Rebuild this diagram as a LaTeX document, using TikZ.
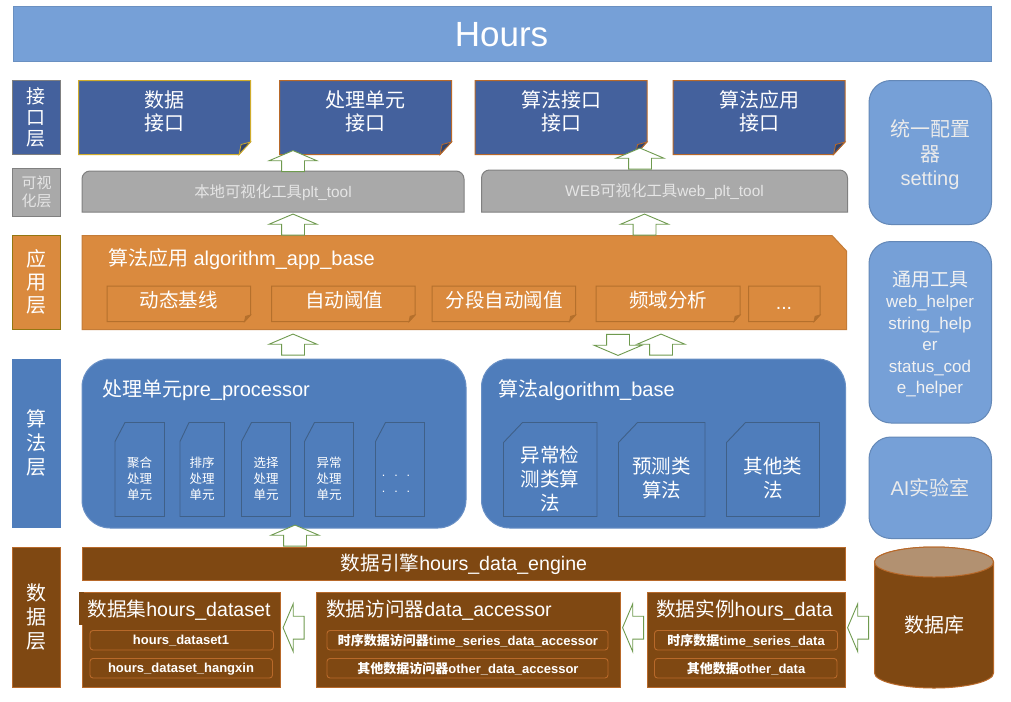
\documentclass[tikz,border=0pt]{standalone}
\usepackage{fontspec}
\setmainfont{Liberation Sans}
\newfontfamily\cjk{Noto Sans CJK SC}
\usetikzlibrary{shapes.arrows,fit}
\newcommand{\C}[1]{{\cjk #1}}
\definecolor{ifblue}{HTML}{44619D}
\definecolor{algblue}{HTML}{4F7DBB}
\definecolor{sideblue}{HTML}{76A0D7}
\definecolor{orangeF}{HTML}{DA8A3E}
\definecolor{orangeL}{HTML}{B5702C}
\definecolor{brownF}{HTML}{7F4812}
\definecolor{brownL}{HTML}{B8692A}
\definecolor{greyF}{HTML}{A9A9A9}
\definecolor{greyL}{HTML}{808080}
\definecolor{arrowG}{HTML}{6F9A4F}
\definecolor{cellL}{HTML}{3F6088}
\tikzset{
  x=1pt,y=-1pt,
  txt/.style={inner sep=0pt,outer sep=0pt,text=white,align=center},
  fitbox/.style={inner sep=0pt,outer sep=0pt,line width=1pt},
  blockarrow/.style={draw=arrowG,fill=white,line width=0.9pt,single arrow,inner xsep=0pt,inner ysep=11pt,outer sep=0pt,
    minimum height=21pt,single arrow head extend=12.5pt,single arrow tip angle=134,anchor=center},
  uparrow/.style={blockarrow,rotate=90},
  downarrow/.style={blockarrow,rotate=270},
  leftarrow/.style={blockarrow,rotate=180},
  subbox/.style={fitbox,draw=brownL,rounded corners=3pt,line width=0.9pt},
  subtxt/.style={txt,font=\fontsize{13}{15}\selectfont\bfseries},
  sidepanel/.style={fitbox,draw=sideblue!85!black,fill=sideblue,rounded corners=22pt},
}
% x1 y1 x2 y2 fold fill line foldfill
\newcommand{\notebox}[8]{%
  \draw[fill=#6,draw=#7,line width=1pt,line join=miter]
    (#1,#2) -- (#3,#2) -- (#3,{#4-#5}) -- ({#3-#5*0.92},#4) -- (#1,#4) -- cycle;
  \draw[fill=#8,draw=#7,line width=0.8pt]
    ({#3-#5*0.92},#4) -- (#3,{#4-#5}) -- ({#3-#5*0.75},{#4-#5*0.8}) -- cycle;
}
% x1 y1 x2 y2 dx dy
\newcommand{\cellbox}[6]{%
  \draw[fill=algblue,draw=cellL,line width=0.9pt]
    (#1,{#2+#6}) -- ({#1+#5},#2) -- (#3,#2) -- (#3,#4) -- (#1,#4) -- cycle;
}
\begin{document}
\begin{tikzpicture}
\useasboundingbox (0,0) rectangle (1011,701);
\fill[white] (0,0) rectangle (1011,701);

% title
\node[fitbox,draw=sideblue!90!black,fill=sideblue,fit={(13,7)(991,62)}] (titlebox) {};
\node[txt,font=\fontsize{35}{40}\selectfont] (title) at (501.5,35) {Hours};

% layer column
\node[fitbox,draw=greyL,fill=ifblue,fit={(12.5,80.5)(60.5,154.5)}] (l1) {};
\node[txt,font=\fontsize{19}{21.2}\selectfont] (l1t) at (l1.center) {\C{接}\\\C{口}\\\C{层}};
\node[fitbox,draw=greyL,fill=greyF,fit={(12.5,168.5)(60.5,216.5)}] (l2) {};
\node[txt,font=\fontsize{15}{18}\selectfont,text=white!90!black] (l2t) at (36.5,192) {\C{可视}\\\C{化层}};
\node[fitbox,draw=orangeL!60!yellow!70!black,fill=orangeF,fit={(12.5,235.5)(60.5,329.5)}] (l3) {};
\node[txt,font=\fontsize{20}{23}\selectfont] (l3t) at (36.5,282) {\C{应}\\\C{用}\\\C{层}};
\node[fitbox,draw=algblue,fill=algblue,fit={(12.5,359.5)(60.5,527.5)}] (l4) {};
\node[txt,font=\fontsize{20}{24}\selectfont] (l4t) at (36.5,443) {\C{算}\\\C{法}\\\C{层}};
\node[fitbox,draw=brownL,fill=brownF,fit={(12.5,547.5)(60.5,687.5)}] (l5) {};
\node[txt,font=\fontsize{20}{24}\selectfont] (l5t) at (36.5,617) {\C{数}\\\C{据}\\\C{层}};

% interface notes
\notebox{78.5}{80.5}{250.5}{154.5}{12.5}{ifblue}{yellow!60!orange!80!black}{ifblue!70!black}
\notebox{279.5}{80.5}{451.5}{154.5}{12.5}{ifblue}{brownL}{ifblue!70!black}
\notebox{475}{80.5}{647}{154.5}{12.5}{ifblue}{brownL}{ifblue!70!black}
\notebox{673}{80.5}{845}{154.5}{12.5}{ifblue}{brownL}{ifblue!70!black}
\node[txt,font=\fontsize{20}{23.5}\selectfont] (n1) at (164.5,111.5) {\C{数据}\\\C{接口}};
\node[txt,font=\fontsize{20}{23.5}\selectfont] (n2) at (365,111.5) {\C{处理单元}\\\C{接口}};
\node[txt,font=\fontsize{20}{23.5}\selectfont] (n3) at (561,111.5) {\C{算法接口}\\\C{接口}};
\node[txt,font=\fontsize{20}{23.5}\selectfont] (n4) at (759,111.5) {\C{算法应用}\\\C{接口}};

% grey tools
\draw[fill=greyF,draw=greyL,line width=1pt]
  (82,212) [rounded corners=8pt] -- (82,171) -- (464,171) [sharp corners] -- (464,212) -- cycle;
\draw[fill=greyF,draw=greyL,line width=1pt]
  (481.5,212) [rounded corners=8pt] -- (481.5,170) -- (847.5,170) [sharp corners] -- (847.5,212) -- cycle;
\node[txt,font=\fontsize{15.4}{17}\selectfont,text=white!90!black] (t1) at (273,193) {\C{本地可视化工具}plt\_tool};
\node[txt,font=\fontsize{15.4}{17}\selectfont,text=white!90!black] (t2) at (664.5,192) {WEB\C{可视化工具}web\_plt\_tool};

% application layer
\draw[fill=orangeF,draw=orangeF!90!black,line width=1pt]
  (82,235.5) -- (832,235.5) -- (846.5,251) -- (846.5,329.5) -- (82,329.5) -- cycle;
\node[txt,font=\fontsize{20}{22}\selectfont,anchor=west] (apptitle) at (108,259) {\C{算法应用} algorithm\_app\_base};
\notebox{107}{286}{250.5}{321.5}{6.5}{orangeF}{orangeL}{orangeL}
\notebox{271.5}{286}{415}{321.5}{6.5}{orangeF}{orangeL}{orangeL}
\notebox{432}{286}{575.5}{321.5}{6.5}{orangeF}{orangeL}{orangeL}
\notebox{596}{286}{740}{321.5}{6.5}{orangeF}{orangeL}{orangeL}
\notebox{748.5}{286}{820}{321.5}{6.5}{orangeF}{orangeL}{orangeL}
\node[txt,font=\fontsize{19.5}{22}\selectfont] (a1) at (178.5,300.5) {\C{动态基线}};
\node[txt,font=\fontsize{19.5}{22}\selectfont] (a2) at (344,300.5) {\C{自动阈值}};
\node[txt,font=\fontsize{19.5}{22}\selectfont] (a3) at (504,300.5) {\C{分段自动阈值}};
\node[txt,font=\fontsize{19.5}{22}\selectfont] (a4) at (668,300.5) {\C{频域分析}};
\node[txt,font=\fontsize{19.5}{22}\selectfont,anchor=base] (a5) at (784,309) {...};

% algorithm layer
\node[fitbox,draw=algblue!85!white,fill=algblue,rounded corners=28pt,fit={(82,359)(466,528)}] (pp) {};
\node[fitbox,draw=algblue!85!white,fill=algblue,rounded corners=28pt,fit={(481.5,359)(845.5,528)}] (ab) {};
\node[txt,font=\fontsize{20}{22}\selectfont,anchor=west] (pptitle) at (102,390) {\C{处理单元}pre\_processor};
\node[txt,font=\fontsize{20}{22}\selectfont,anchor=west] (abtitle) at (498,390) {\C{算法}algorithm\_base};
\cellbox{115}{422.5}{164.5}{516.5}{10}{19}
\cellbox{180}{422.5}{224.5}{516.5}{9}{19}
\cellbox{241.5}{422.5}{290.5}{516.5}{10}{19}
\cellbox{304.5}{422.5}{353.5}{516.5}{10}{19}
\cellbox{375.5}{422.5}{424.5}{516.5}{10}{19}
\node[txt,font=\fontsize{12.5}{16}\selectfont] (c1) at (139.5,478.5) {\C{聚合}\\\C{处理}\\\C{单元}};
\node[txt,font=\fontsize{12.5}{16}\selectfont] (c2) at (202,478.5) {\C{排序}\\\C{处理}\\\C{单元}};
\node[txt,font=\fontsize{12.5}{16}\selectfont] (c3) at (266,478.5) {\C{选择}\\\C{处理}\\\C{单元}};
\node[txt,font=\fontsize{12.5}{16}\selectfont] (c4) at (329,478.5) {\C{异常}\\\C{处理}\\\C{单元}};
\node[txt,font=\fontsize{12.5}{16}\selectfont] (c5) at (396,484) {.\hspace{9pt}.\hspace{9pt}.\\.\hspace{9pt}.\hspace{9pt}.};
\cellbox{503.5}{422.5}{597}{516.5}{19}{20}
\cellbox{618.5}{422.5}{705}{516.5}{19}{20}
\cellbox{726.5}{422.5}{819.5}{516.5}{19}{20}
\node[txt,font=\fontsize{19.5}{24}\selectfont] (d1) at (550,479) {\C{异常检}\\\C{测类算}\\\C{法}};
\node[txt,font=\fontsize{19.5}{24}\selectfont] (d2) at (661.5,478.5) {\C{预测类}\\\C{算法}};
\node[txt,font=\fontsize{19.5}{24}\selectfont] (d3) at (773,478.5) {\C{其他类}\\\C{法}};

% data layer
\node[fitbox,draw=brownL,fill=brownF,fit={(82,547.5)(845.5,580.5)}] (eng) {};
\node[txt,font=\fontsize{19.6}{23}\selectfont] (engt) at (464,564.5) {\C{数据引擎}hours\_data\_engine};
\node[fitbox,draw=brownL,fill=brownF,fit={(82,592.5)(280.5,687.5)}] (b1) {};
\fill[brownF] (79,592) rectangle (84,625);
\node[fitbox,draw=brownL,fill=brownF,fit={(316.5,592.5)(620,687.5)}] (b2) {};
\node[fitbox,draw=brownL,fill=brownF,fit={(647,592.5)(845.5,687.5)}] (b3) {};
\node[txt,font=\fontsize{19.6}{23}\selectfont] (b1t) at (179,610) {\C{数据集}hours\_dataset};
\node[txt,font=\fontsize{19.6}{23}\selectfont] (b2t) at (439,610) {\C{数据访问器}data\_accessor};
\node[txt,font=\fontsize{19.6}{23}\selectfont] (b3t) at (744.5,610) {\C{数据实例}hours\_data};
\node[subbox,fit={(90,630.5)(273.5,650)}] (s11) {};
\node[subbox,fit={(90,658.5)(272.5,678)}] (s12) {};
\node[subbox,fit={(327,630.5)(608,650)}] (s21) {};
\node[subbox,fit={(327,658.5)(608,678)}] (s22) {};
\node[subbox,fit={(654.5,630.5)(837.5,650)}] (s31) {};
\node[subbox,fit={(654.5,658.5)(837,678)}] (s32) {};
\node[subtxt] (s11t) at (181,641) {hours\_dataset1};
\node[subtxt] (s12t) at (181,669) {hours\_dataset\_hangxin};
\node[subtxt] (s21t) at (468,641) {\C{时序数据访问器}time\_series\_data\_accessor};
\node[subtxt] (s22t) at (468,669) {\C{其他数据访问器}other\_data\_accessor};
\node[subtxt] (s31t) at (746,641) {\C{时序数据}time\_series\_data};
\node[subtxt] (s32t) at (746,669) {\C{其他数据}other\_data};

% database cylinder
\draw[fill=brownF,draw=brownL,line width=1pt]
  (874.5,562) -- (874.5,673) arc[start angle=180,end angle=0,x radius=59.5,y radius=15]
  -- (993.5,562) arc[start angle=0,end angle=-180,x radius=59.5,y radius=15] -- cycle;
\draw[fill=brownF!60!white,draw=brownL,line width=1pt] (934,562) ellipse[x radius=59.5,y radius=15];
\node[txt,font=\fontsize{20}{23}\selectfont] (db) at (934,625) {\C{数据库}};

% side panels
\node[sidepanel,fit={(869,80.5)(991.5,224.5)}] (sp1) {};
\node[sidepanel,fit={(869,241.5)(991.5,423)}] (sp2) {};
\node[sidepanel,fit={(869,437)(991.5,538.5)}] (sp3) {};
\node[txt,font=\fontsize{20}{24.5}\selectfont,text=white!92!black] (sp1t) at (930,155) {\C{统一配置}\\\C{器}\\setting};
\node[txt,font=\fontsize{17}{21.4}\selectfont,text=white!95!black] (sp2t) at (930,334) {{\fontsize{19}{21.4}\selectfont\C{通用工具}}\\web\_helper\\string\_help\\er\\status\_cod\\e\_helper};
\node[txt,font=\fontsize{20}{24}\selectfont,text=white!92!black] (sp3t) at (930,488) {AI\C{实验室}};

% block arrows
\node[uparrow] (u1) at (293,163.5) {};
\node[uparrow] (u2) at (640,161) {};
\node[uparrow] (u3) at (293,227) {};
\node[uparrow] (u4) at (644.5,227) {};
\node[uparrow] (u5) at (293,347) {};
\node[downarrow] (dn) at (618,342.5) {};
\node[uparrow] (u6) at (661,347) {};
\node[uparrow] (u7) at (295,538) {};
\node[leftarrow] (w1) at (296,627.7) {};
\node[leftarrow] (w2) at (635.5,627.7) {};
\node[leftarrow] (w3) at (860.5,627.7) {};
\end{tikzpicture}
\end{document}
